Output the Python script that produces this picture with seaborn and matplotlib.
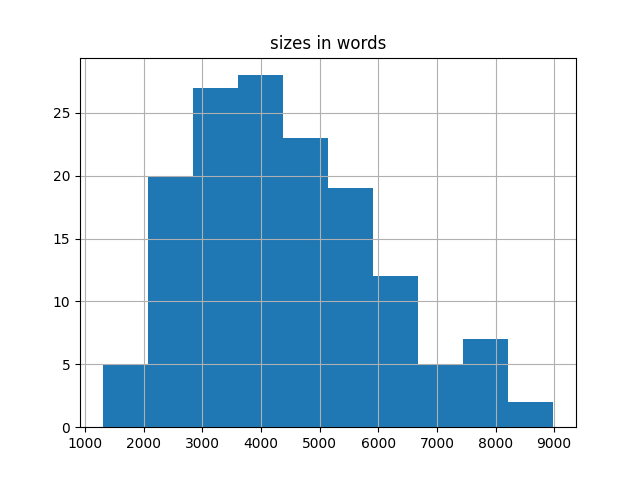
import numpy as np
import seaborn as sns
import matplotlib.pyplot as plt

# bin edges and counts
bin_edges = [1296, 2065, 2834, 3604, 4373, 5142, 5911, 6680, 7450, 8219, 8988]
counts = [5, 20, 27, 28, 23, 19, 12, 5, 7, 2]

centers = [(a + b) / 2 for a, b in zip(bin_edges[:-1], bin_edges[1:])]

fig, ax = plt.subplots(figsize=(6.4, 4.8), dpi=100)
sns.histplot(x=centers, weights=counts, bins=bin_edges, color="#1f77b4",
             alpha=1, linewidth=0, ax=ax)
ax.set_title("sizes in words")
ax.set_xlabel("")
ax.set_ylabel("")
ax.grid(True)
ax.set_xticks(range(1000, 9001, 1000))

plt.savefig("out.png")
